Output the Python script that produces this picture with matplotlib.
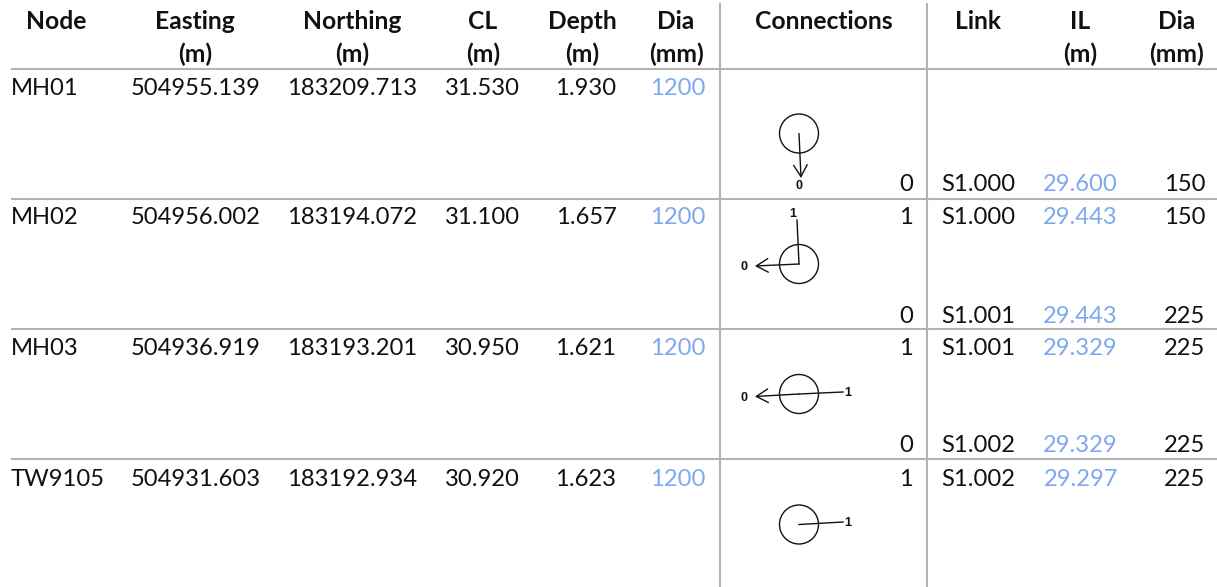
import matplotlib
matplotlib.use("Agg")
import matplotlib.pyplot as plt
from matplotlib.patches import Circle

plt.rcParams['font.family'] = ['Lato', 'DejaVu Sans']

W, H = 1217, 587
GREY = '#b3b3b3'
BLUE = '#7ea8ef'
FS = 17.1
FS_HEAD = 17.7

headers_top = ['Node', 'Easting', 'Northing', 'CL', 'Depth', 'Dia', 'Connections', 'Link', 'IL', 'Dia']
headers_bot = ['', '(m)', '(m)', '(m)', '(m)', '(mm)', '', '', '(m)', '(mm)']
header_x = [56, 195, 352, 483, 582, 676, 824, 978, 1080, 1177]

nodes = ['MH01', 'MH02', 'MH03', 'TW9105']
easting = ['504955.139', '504956.002', '504936.919', '504931.603']
northing = ['183209.713', '183194.072', '183193.201', '183192.934']
cl = ['31.530', '31.100', '30.950', '30.920']
depth = ['1.930', '1.657', '1.621', '1.623']
dia = ['1200', '1200', '1200', '1200']

row_baseline = [95, 224, 355, 486]
sub_baseline = [191, 323, 452, None]
links = [
    (0, 'bot', '0', 'S1.000', '29.600', '150'),
    (1, 'top', '1', 'S1.000', '29.443', '150'),
    (1, 'bot', '0', 'S1.001', '29.443', '225'),
    (2, 'top', '1', 'S1.001', '29.329', '225'),
    (2, 'bot', '0', 'S1.002', '29.329', '225'),
    (3, 'top', '1', 'S1.002', '29.297', '225'),
]

rules_y = [68.7, 198.7, 328.7, 459.3]
rules_vx = [719.7, 927.3]

circle_c = [(799, 133.5), (799, 264), (799, 394), (799, 524.5)]
circle_r = 19.5
spokes = [
    (0, 801, 178, '0', 799, 186, True),
    (1, 797, 220, '1', 793, 214, False),
    (1, 755, 266, '0', 744, 267, True),
    (2, 755, 396.5, '0', 744, 398, True),
    (2, 843, 392, '1', 848, 393, False),
    (3, 843, 522, '1', 848, 523.5, False),
]

fig = plt.figure(figsize=(W / 100, H / 100), dpi=100)
ax = fig.add_axes([0, 0, 1, 1])
ax.set_xlim(0, W)
ax.set_ylim(H, 0)
ax.axis('off')

for y in rules_y:
    ax.plot([11, W], [y, y], color=GREY, lw=1.5, solid_capstyle='butt')
for x in rules_vx:
    ax.plot([x, x], [3, H], color=GREY, lw=1.5, solid_capstyle='butt')

for x, a, b in zip(header_x, headers_top, headers_bot):
    ax.text(x, 29, a, ha='center', va='baseline', fontsize=FS_HEAD, fontweight='bold', color='#111111')
    if b:
        ax.text(x, 62, b, ha='center', va='baseline', fontsize=FS_HEAD, fontweight='bold', color='#111111')

for i, y in enumerate(row_baseline):
    ax.text(11, y, nodes[i], ha='left', va='baseline', fontsize=FS, color='#111111')
    ax.text(260.5, y, easting[i], ha='right', va='baseline', fontsize=FS, color='#111111')
    ax.text(417.5, y, northing[i], ha='right', va='baseline', fontsize=FS, color='#111111')
    ax.text(520, y, cl[i], ha='right', va='baseline', fontsize=FS, color='#111111')
    ax.text(616.5, y, depth[i], ha='right', va='baseline', fontsize=FS, color='#111111')
    ax.text(705.5, y, dia[i], ha='right', va='baseline', fontsize=FS, color=BLUE)

for r, where, conn, link, il, d in links:
    y = row_baseline[r] if where == 'top' else sub_baseline[r]
    ax.text(913, y, conn, ha='right', va='baseline', fontsize=FS, color='#111111')
    ax.text(941.5, y, link, ha='left', va='baseline', fontsize=FS, color='#111111')
    ax.text(1118, y, il, ha='right', va='baseline', fontsize=FS, color=BLUE)
    ax.text(1205.5, y, d, ha='right', va='baseline', fontsize=FS, color='#111111')

for cx, cy in circle_c:
    ax.add_patch(Circle((cx, cy), circle_r, fill=False, ec='#111111', lw=1.0))

for r, ex, ey, lab, lx, ly, arrow in spokes:
    cx, cy = circle_c[r]
    if arrow:
        ax.annotate('', xy=(ex, ey), xytext=(cx, cy),
                    arrowprops=dict(arrowstyle='->,head_length=0.6,head_width=0.35',
                                    mutation_scale=14, color='#111111', lw=1.0,
                                    shrinkA=0, shrinkB=0))
    else:
        ax.plot([cx, ex], [cy, ey], color='#111111', lw=1.0)
    ax.text(lx, ly, lab, ha='center', va='center', fontsize=9, fontweight='bold',
            family=['Liberation Sans', 'DejaVu Sans'], color='#111111')

fig.savefig('out.png', dpi=100, facecolor='white')
